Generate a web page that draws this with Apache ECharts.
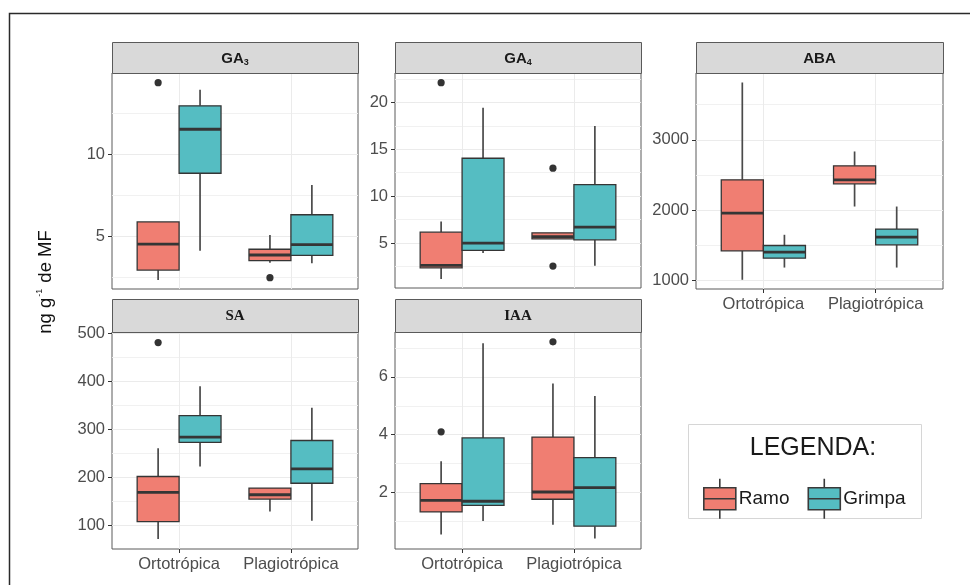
<!DOCTYPE html>
<html>
<head>
<meta charset="utf-8">
<script src="https://cdn.jsdelivr.net/npm/echarts@6/dist/echarts.min.js"></script>
<style>
html,body{margin:0;padding:0;background:#fff;}
#chart{width:970px;height:585px;}
</style>
</head>
<body>
<div id="chart"></div>
<script>
// ---------- data ----------
const categories = ['Ortotrópica', 'Plagiotrópica'];
const groups = ['Ramo', 'Grimpa'];

// box stats per category: [lowWhisker, Q1, median, Q3, highWhisker]
const ga3Ramo   = [[2.31, 2.92, 4.51, 5.86, 5.86], [3.37, 3.49, 3.84, 4.19, 5.06]];
const ga3Grimpa = [[4.10, 8.84, 11.53, 12.96, 13.94], [3.33, 3.82, 4.47, 6.30, 8.12]];
const ga3RamoOut = [[0, 14.38], [1, 2.45]];
const ga3GrimpaOut = [];
const ga3Ticks = [5, 10];
const ga3Minor = [2.5, 7.5, 12.5];

const ga4Ramo   = [[1.17, 2.37, 2.62, 6.17, 7.30], [5.46, 5.46, 5.70, 6.10, 6.10]];
const ga4Grimpa = [[3.94, 4.22, 5.00, 14.04, 19.43], [2.59, 5.35, 6.70, 11.23, 17.48]];
const ga4RamoOut = [[0, 22.09], [1, 12.98], [1, 2.55]];
const ga4GrimpaOut = [];
const ga4Ticks = [5, 10, 15, 20];
const ga4Minor = [2.5, 7.5, 12.5, 17.5, 22.5];

const abaRamo   = [[1009, 1421, 1957, 2431, 3815], [2051, 2374, 2431, 2630, 2834]];
const abaGrimpa = [[1183, 1317, 1403, 1497, 1649], [1183, 1506, 1616, 1730, 2051]];
const abaRamoOut = [];
const abaGrimpaOut = [];
const abaTicks = [1000, 2000, 3000];
const abaMinor = [1500, 2500, 3500];

const saRamo   = [[72, 108, 169, 202, 261], [129, 155, 164, 178, 178]];
const saGrimpa = [[223, 273, 284, 329, 390], [110, 188, 218, 277, 345]];
const saRamoOut = [[0, 481]];
const saGrimpaOut = [];
const saTicks = [100, 200, 300, 400, 500];
const saMinor = [150, 250, 350, 450];

const iaaRamo   = [[0.55, 1.33, 1.73, 2.31, 3.08], [0.89, 1.77, 2.02, 3.92, 5.77]];
const iaaGrimpa = [[1.02, 1.56, 1.70, 3.89, 7.16], [0.41, 0.84, 2.17, 3.21, 5.34]];
const iaaRamoOut = [[0, 4.10], [1, 7.21]];
const iaaGrimpaOut = [];
const iaaTicks = [2, 4, 6];
const iaaMinor = [1, 3, 5, 7];

// ---------- layout / style ----------
const SANS = 'Liberation Sans, Arial, sans-serif';
const SERIF = 'Liberation Serif, Times New Roman, serif';
const COLORS = { Ramo: '#F07E72', Grimpa: '#55BDC2' };
const BOX_W = 0.375;
const OFFSETS = { Ramo: -0.1875, Grimpa: 0.1875 };

const panels = [
  { main: 'GA', sub: '3', serif: false, grid: [112, 73, 246, 216], stripTop: 42, yr: [1.76, 14.97],
    ticks: ga3Ticks, minor: ga3Minor, Ramo: ga3Ramo, Grimpa: ga3Grimpa, RamoOut: ga3RamoOut, GrimpaOut: ga3GrimpaOut, showX: false },
  { main: 'GA', sub: '4', serif: false, grid: [395, 73, 246, 215], stripTop: 42, yr: [0.22, 23.12],
    ticks: ga4Ticks, minor: ga4Minor, Ramo: ga4Ramo, Grimpa: ga4Grimpa, RamoOut: ga4RamoOut, GrimpaOut: ga4GrimpaOut, showX: false },
  { main: 'ABA', sub: '', serif: false, grid: [696, 73, 247, 216], stripTop: 42, yr: [878, 3950],
    ticks: abaTicks, minor: abaMinor, Ramo: abaRamo, Grimpa: abaGrimpa, RamoOut: abaRamoOut, GrimpaOut: abaGrimpaOut, showX: true },
  { main: 'SA', sub: '', serif: true, grid: [112, 332, 246, 217], stripTop: 299, yr: [51, 503],
    ticks: saTicks, minor: saMinor, Ramo: saRamo, Grimpa: saGrimpa, RamoOut: saRamoOut, GrimpaOut: saGrimpaOut, showX: true },
  { main: 'IAA', sub: '', serif: true, grid: [395, 332, 246, 217], stripTop: 299, yr: [0.05, 7.55],
    ticks: iaaTicks, minor: iaaMinor, Ramo: iaaRamo, Grimpa: iaaGrimpa, RamoOut: iaaRamoOut, GrimpaOut: iaaGrimpaOut, showX: true }
];

function boxRender(group) {
  const off = OFFSETS[group];
  return function (params, api) {
    const c = api.value(0) + off;
    const pLow = api.coord([c, api.value(1)]);
    const pQ1 = api.coord([c, api.value(2)]);
    const pMed = api.coord([c, api.value(3)]);
    const pQ3 = api.coord([c, api.value(4)]);
    const pHigh = api.coord([c, api.value(5)]);
    const xl = api.coord([c - BOX_W / 2, api.value(3)])[0];
    const xr = api.coord([c + BOX_W / 2, api.value(3)])[0];
    const wStyle = { stroke: '#4a4a4a', lineWidth: 1.7 };
    return {
      type: 'group',
      children: [
        { type: 'line', shape: { x1: pHigh[0], y1: pHigh[1], x2: pQ3[0], y2: pQ3[1] }, style: wStyle },
        { type: 'line', shape: { x1: pLow[0], y1: pLow[1], x2: pQ1[0], y2: pQ1[1] }, style: wStyle },
        { type: 'rect', shape: { x: xl, y: pQ3[1], width: xr - xl, height: pQ1[1] - pQ3[1] },
          style: { fill: COLORS[group], stroke: '#353535', lineWidth: 1.3 } },
        { type: 'line', shape: { x1: xl, y1: pMed[1], x2: xr, y2: pMed[1] },
          style: { stroke: '#353535', lineWidth: 2.8 } }
      ]
    };
  };
}
function outRender(group) {
  const off = OFFSETS[group];
  return function (params, api) {
    const p = api.coord([api.value(0) + off, api.value(1)]);
    return { type: 'circle', shape: { cx: p[0], cy: p[1], r: 3.6 }, style: { fill: '#333' } };
  };
}

const grids = [], xAxes = [], yAxes = [], series = [], graphics = [];

panels.forEach(function (p, i) {
  grids.push({ left: p.grid[0], top: p.grid[1], width: p.grid[2], height: p.grid[3],
    show: true, borderColor: '#5a5a5a', borderWidth: 1, backgroundColor: '#fff' });
  xAxes.push({
    type: 'value', gridIndex: i, min: 0.4, max: 2.6,
    axisLine: { show: false },
    axisTick: { show: p.showX, customValues: [1, 2], length: 4, lineStyle: { color: '#333', width: 1 } },
    axisLabel: { show: p.showX, customValues: [1, 2], margin: 7, color: '#4D4D4D',
      fontFamily: SANS, fontSize: 16.5, formatter: function (v) { return categories[Math.round(v) - 1]; } },
    splitLine: { show: true, lineStyle: { color: '#EBEBEB', width: 1 } }
  });
  // major y axis
  yAxes.push({
    type: 'value', gridIndex: i, min: p.yr[0], max: p.yr[1], position: 'left',
    axisLine: { show: false },
    axisTick: { show: true, customValues: p.ticks, length: 4, lineStyle: { color: '#333', width: 1 } },
    axisLabel: { show: true, customValues: p.ticks, margin: 7, color: '#4D4D4D', fontFamily: SANS, fontSize: 16.5,
      formatter: function (v) { return String(v); } },
    splitLine: { show: true, lineStyle: { color: '#EBEBEB', width: 1.1 } }
  });
  // minor gridlines
  yAxes.push({
    type: 'value', gridIndex: i, min: p.yr[0], max: p.yr[1], position: 'right',
    axisLine: { show: false },
    axisTick: { show: false, customValues: p.minor },
    axisLabel: { show: false, customValues: p.minor },
    splitLine: { show: true, lineStyle: { color: '#EFEFEF', width: 0.9 } }
  });
  groups.forEach(function (g) {
    series.push({
      type: 'custom', name: g, xAxisIndex: i, yAxisIndex: 2 * i,
      renderItem: boxRender(g),
      encode: { x: 0, y: [1, 2, 3, 4, 5] },
      data: p[g].map(function (d, k) { return [k + 1].concat(d); }),
      z: 3
    });
    if (p[g + 'Out'].length) {
      series.push({
        type: 'custom', name: g, xAxisIndex: i, yAxisIndex: 2 * i,
        renderItem: outRender(g),
        encode: { x: 0, y: 1 },
        data: p[g + 'Out'].map(function (d) { return [d[0] + 1, d[1]]; }),
        z: 4
      });
    }
  });
  // strip
  const fam = p.serif ? SERIF : SANS;
  graphics.push({
    type: 'rect', left: p.grid[0], top: p.stripTop,
    shape: { width: p.grid[2], height: p.grid[1] - p.stripTop },
    style: { fill: '#D9D9D9', stroke: '#5a5a5a', lineWidth: 1 }, z: 5
  });
  const txt = p.sub ? '{b|' + p.main + '}{s|' + p.sub + '}' : '{b|' + p.main + '}';
  graphics.push({
    type: 'text', x: p.grid[0] + p.grid[2] / 2, y: (p.stripTop + p.grid[1]) / 2 + 1, z: 6,
    style: {
      text: txt, align: 'center', verticalAlign: 'middle', textAlign: 'center', textVerticalAlign: 'middle',
      rich: {
        b: { fontFamily: fam, fontWeight: 'bold', fontSize: 15, fill: '#1a1a1a', lineHeight: 18 },
        s: { fontFamily: fam, fontWeight: 'bold', fontSize: 9, fill: '#1a1a1a', lineHeight: 18, verticalAlign: 'bottom', padding: [6, 0, 0, 0] }
      }
    }
  });
});

// outer frame (top and left edges visible)
graphics.push({ type: 'polyline', shape: { points: [[9.5, 590], [9.5, 13.5], [975, 13.5]] },
  style: { stroke: '#2a2a2a', lineWidth: 1.5, fill: null }, z: 1 });

// y axis title
graphics.push({
  type: 'text', x: 46, y: 282, rotation: Math.PI / 2, z: 6,
  style: {
    text: '{a|ng g}{s|-1}{a| de MF}', align: 'center', verticalAlign: 'middle', textAlign: 'center', textVerticalAlign: 'middle',
    rich: {
      a: { fontFamily: SANS, fontSize: 18.5, fill: '#111', lineHeight: 22 },
      s: { fontFamily: SANS, fontSize: 9, fill: '#111', lineHeight: 22, verticalAlign: 'top', padding: [0, 1, 10, 1] }
    }
  }
});

// legend box + title
graphics.push({ type: 'rect', left: 688, top: 424, shape: { width: 233, height: 94 },
  style: { fill: '#fff', stroke: '#D6D6D6', lineWidth: 1 }, z: 1 });
graphics.push({ type: 'text', x: 813, y: 448, z: 6,
  style: { text: 'LEGENDA:', align: 'center', verticalAlign: 'middle', textAlign: 'center', textVerticalAlign: 'middle',
    fontFamily: SANS, fontSize: 25, fill: '#1a1a1a' } });

const keyIcon = 'path://M16,0V9M0,9H32V31H0ZM0,20H32M16,31V40';

const option = {
  backgroundColor: '#fff',
  animation: false,
  grid: grids,
  xAxis: xAxes,
  yAxis: yAxes,
  series: series,
  graphic: graphics,
  legend: {
    left: 698, top: 473, orient: 'horizontal', selectedMode: false,
    itemWidth: 32, itemHeight: 40, itemGap: 18, symbolKeepAspect: false,
    textStyle: { fontFamily: SANS, fontSize: 19, color: '#1a1a1a', padding: [0, 0, 0, -2] },
    data: groups.map(function (g) {
      return { name: g, icon: keyIcon, itemStyle: { color: COLORS[g], borderColor: '#3a3a3a', borderWidth: 1.6 } };
    })
  }
};

const chart = echarts.init(document.getElementById('chart'), null, { renderer: 'canvas' });
chart.setOption(option);
</script>
</body>
</html>
